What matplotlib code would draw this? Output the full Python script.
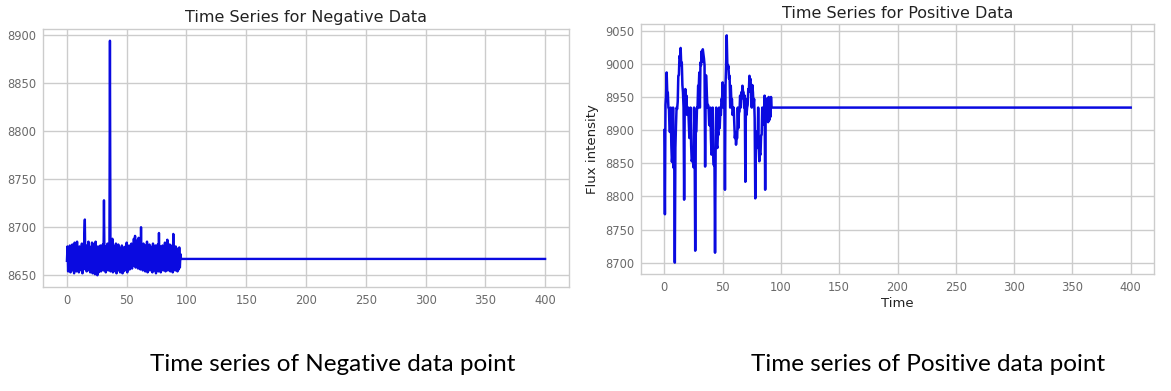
import numpy as np
import matplotlib
matplotlib.use('Agg')
from matplotlib import pyplot as plt

# Negative sample: flux every 0.5 time units from 0 to 95.5, then constant fill to 400
neg_flux = [
    8665, 8680, 8654, 8678, 8656, 8681, 8653, 8677, 8658, 8682,
    8655, 8679, 8652, 8684, 8657, 8676, 8654, 8685, 8656, 8678,
    8653, 8680, 8658, 8677, 8655, 8683, 8652, 8679, 8656, 8690,
    8708, 8657, 8681, 8654, 8678, 8659, 8685, 8655, 8680, 8653,
    8677, 8656, 8684, 8652, 8679, 8654, 8683, 8651, 8685, 8655,
    8678, 8650, 8680, 8653, 8676, 8656, 8681, 8654, 8679, 8657,
    8682, 8655, 8728, 8658, 8680, 8653, 8677, 8656, 8683, 8655,
    8679, 8657, 8894, 8654, 8686, 8656, 8688, 8653, 8681, 8658,
    8680, 8654, 8683, 8652, 8678, 8657, 8682, 8655, 8679, 8653,
    8676, 8656, 8681, 8652, 8679, 8654, 8675, 8657, 8680, 8655,
    8684, 8653, 8678, 8658, 8681, 8656, 8677, 8659, 8683, 8657,
    8680, 8660, 8688, 8662, 8691, 8658, 8686, 8661, 8684, 8657,
    8689, 8659, 8682, 8656, 8700, 8658, 8680, 8655, 8683, 8657,
    8678, 8654, 8681, 8656, 8685, 8653, 8679, 8657, 8682, 8655,
    8680, 8656, 8677, 8653, 8683, 8658, 8679, 8655, 8681, 8652,
    8678, 8656, 8682, 8654, 8694, 8657, 8680, 8653, 8677, 8656,
    8681, 8655, 8679, 8658, 8684, 8654, 8680, 8656, 8687, 8655,
    8678, 8657, 8682, 8654, 8679, 8656, 8681, 8653, 8693, 8656,
    8677, 8655, 8680, 8657, 8678, 8654, 8676, 8656, 8679, 8658,
    8672, 8667,
]
neg_fill = 8667

# Positive sample: flux every 0.5 time units from 0 to 92, then constant fill to 400
pos_flux = [
    8900, 8773, 8938, 8952, 8987, 8958, 8957, 8934, 8932, 8898,
    8897, 8934, 8878, 8852, 8862, 8934, 8843, 8867, 8700, 8873,
    8907, 8934, 8932, 8943, 8982, 8983, 9012, 9008, 9024, 8998,
    9002, 8968, 8957, 8934, 8795, 8938, 8962, 8934, 8952, 8923,
    8927, 8934, 8912, 8888, 8892, 8934, 8877, 8853, 8857, 8858,
    8844, 8934, 8877, 8718, 8897, 8898, 8934, 8933, 8967, 8963,
    8987, 8934, 9002, 8998, 9019, 9003, 9022, 9015, 9008, 8998,
    8845, 8983, 8982, 8953, 8934, 8938, 8932, 8908, 8907, 8934,
    8887, 8863, 8867, 8934, 8857, 8847, 8862, 8715, 8867, 8934,
    8877, 8873, 8897, 8893, 8934, 8903, 8927, 8923, 8947, 8943,
    8972, 8934, 8967, 8963, 8810, 8968, 8997, 9043, 9002, 8993,
    8997, 8978, 8982, 8934, 8967, 8943, 8947, 8923, 8927, 8934,
    8912, 8888, 8897, 8878, 8889, 8888, 8934, 8903, 8927, 8928,
    8952, 8934, 8957, 8948, 8967, 8958, 8957, 8934, 8952, 8822,
    8947, 8923, 8934, 8938, 8962, 8958, 8982, 8976, 8977, 8953,
    8934, 8968, 8957, 8938, 8947, 8918, 8797, 8898, 8897, 8873,
    8877, 8934, 8872, 8853, 8865, 8863, 8892, 8893, 8934, 8908,
    8932, 8928, 8952, 8810, 8948, 8920, 8934, 8945, 8912, 8950,
    8915, 8940, 8920, 8950, 8934,
]
pos_fill = 8934

neg_time = np.append(np.arange(len(neg_flux)) * 0.5, 400)
neg_vals = neg_flux + [neg_fill]
pos_time = np.append(np.arange(len(pos_flux)) * 0.5, 400)
pos_vals = pos_flux + [pos_fill]

plt.rcParams['font.family'] = 'DejaVu Sans'
grid_c = '#cccccc'
tick_c = '#6a6a6a'
line_c = '#0a0ae0'

fig = plt.figure(figsize=(11.71, 3.91), dpi=100)
fig.patch.set_facecolor('white')

ax1 = fig.add_axes([43 / 1171, 1 - 287 / 391, 526 / 1171, 258 / 391])
ax2 = fig.add_axes([641 / 1171, 1 - 274 / 391, 513 / 1171, 250 / 391])

ax1.plot(neg_time, neg_vals, color=line_c, lw=1.7)
ax2.plot(pos_time, pos_vals, color=line_c, lw=1.8)

ax1.set_yticks(np.arange(8650, 8901, 50))
ax2.set_yticks(np.arange(8700, 9051, 50))

for ax in (ax1, ax2):
    ax.set_xticks(np.arange(0, 401, 50))
    ax.grid(True, color=grid_c, lw=1)
    ax.set_axisbelow(True)
    for s in ax.spines.values():
        s.set_color(grid_c)
        s.set_linewidth(1)
    ax.tick_params(length=0, labelsize=8.3, labelcolor=tick_c, pad=5)

ax1.set_title('Time Series for Negative Data', fontsize=11.5, color='#222222', pad=5)
ax2.set_title('Time Series for Positive Data', fontsize=11.5, color='#222222', pad=4)
ax2.set_xlabel('Time', fontsize=9.5, color='#222222', labelpad=2)
ax2.set_ylabel('Flux intensity', fontsize=9.5, color='#222222', labelpad=4)

fig.text(333 / 1171, 1 - 371 / 391, 'Time series of Negative data point',
         fontsize=17.5, family='Lato', ha='center', va='baseline', color='black')
fig.text(928 / 1171, 1 - 371 / 391, 'Time series of Positive data point',
         fontsize=17.5, family='Lato', ha='center', va='baseline', color='black')

fig.savefig('out.png', dpi=100)
